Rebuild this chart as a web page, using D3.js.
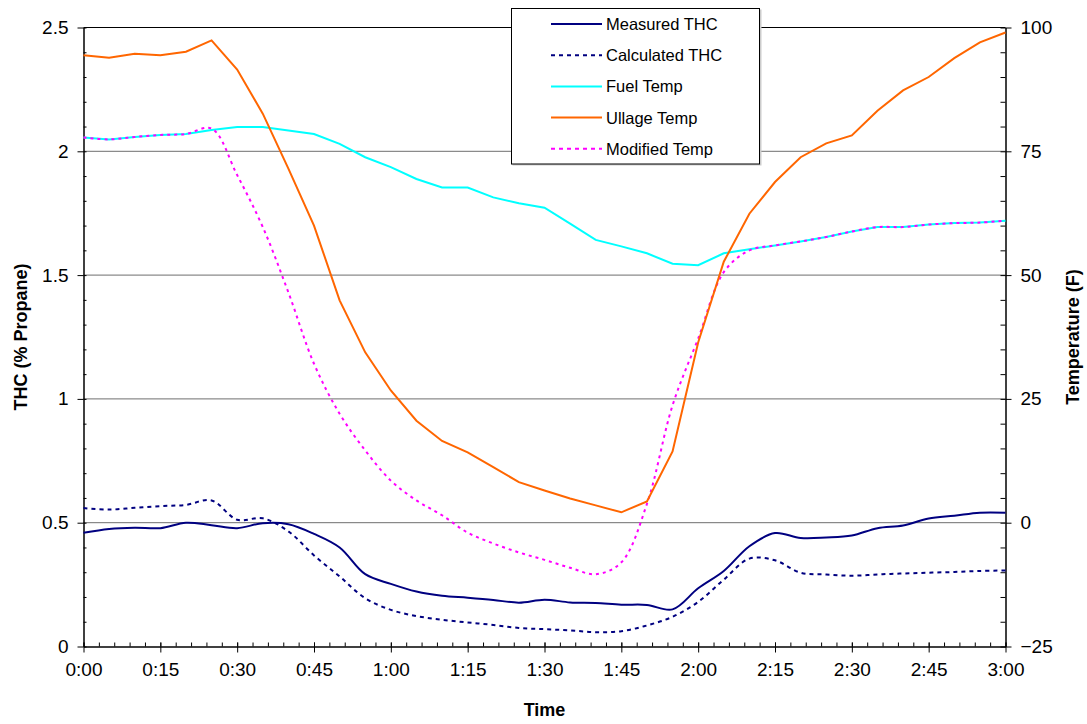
<!DOCTYPE html>
<html>
<head>
<meta charset="utf-8">
<script src="https://cdn.jsdelivr.net/npm/d3@7"></script>
<style>
html,body{margin:0;padding:0;background:#fff;}
svg{display:block;font-family:"Liberation Sans",Arial,sans-serif;}
</style>
</head>
<body>
<svg id="chart" width="1087" height="724"></svg>
<script>
// ---- data (minutes since start, 5-min steps) ----
const minutes = [0,5,10,15,20,25,30,35,40,45,50,55,60,65,70,75,80,85,90,95,100,105,110,115,120,125,130,135,140,145,150,155,160,165,170,175,180];
const measuredTHC = [0.459,0.475,0.480,0.478,0.500,0.490,0.478,0.498,0.494,0.455,0.400,0.292,0.253,0.222,0.205,0.197,0.188,0.177,0.189,0.178,0.176,0.169,0.168,0.150,0.235,0.305,0.405,0.458,0.438,0.440,0.448,0.478,0.489,0.517,0.528,0.540,0.540];
const calculatedTHC = [0.559,0.553,0.560,0.567,0.572,0.590,0.512,0.518,0.465,0.368,0.283,0.195,0.148,0.123,0.108,0.097,0.087,0.075,0.070,0.065,0.058,0.062,0.085,0.120,0.180,0.270,0.355,0.348,0.298,0.291,0.286,0.291,0.295,0.298,0.301,0.305,0.307];
const fuelTemp = [77.8,77.4,77.9,78.3,78.5,79.3,79.9,79.9,79.2,78.5,76.5,73.8,71.8,69.4,67.7,67.7,65.7,64.5,63.6,60.4,57.1,55.8,54.4,52.3,52.0,54.4,55.2,56.0,56.8,57.7,58.8,59.7,59.7,60.2,60.5,60.6,61.0];
const ullageTemp = [94.4,93.9,94.7,94.4,95.1,97.4,91.5,82.6,71.5,60.0,44.9,34.4,26.7,20.6,16.5,14.2,11.2,8.2,6.5,4.9,3.5,2.1,4.3,14.4,36.4,52.7,62.4,68.8,73.8,76.6,78.2,83.2,87.3,90.0,93.8,97.0,99.0];
const modifiedTemp = [77.8,77.4,77.9,78.3,78.5,79.6,70.2,59.7,46.5,32.1,22.0,14.6,8.5,4.5,1.5,-2.0,-4.2,-6.0,-7.5,-9.1,-10.4,-8.0,3.8,23.7,37.2,50.6,55.0,56.0,56.8,57.7,58.8,59.7,59.7,60.2,60.5,60.6,61.0];

const timeTicks = [0,15,30,45,60,75,90,105,120,135,150,165,180];
const timeLabels = ["0:00","0:15","0:30","0:45","1:00","1:15","1:30","1:45","2:00","2:15","2:30","2:45","3:00"];
const leftTicks = [0,0.5,1,1.5,2,2.5];
const rightTicks = [-25,0,25,50,75,100];

const seriesNames = ["Measured THC","Calculated THC","Fuel Temp","Ullage Temp","Modified Temp"];
const seriesColors = ["#000080","#000080","#00FFFF","#FF6600","#FF00FF"];

// ---- layout ----
const svg = d3.select("#chart");
const L = 83.5, R = 1005.5, T = 27.5, B = 646.5;
const x = d3.scaleLinear().domain([0,180]).range([L,R]);
const yL = d3.scaleLinear().domain([0,2.5]).range([B,T]);
const yR = d3.scaleLinear().domain([-25,100]).range([B,T]);

// gridlines
svg.append("g").selectAll("line").data(leftTicks.filter(d=>d>0)).join("line")
  .attr("x1",L).attr("x2",R).attr("y1",d=>yL(d)).attr("y2",d=>yL(d))
  .attr("stroke",d=>d===2.5?"#000":"#6e6e6e").attr("stroke-width",1);

// axes
const minorX = d3.range(0,181,3);
svg.append("g").attr("transform",`translate(0,${B})`)
  .call(d3.axisTop(x).tickValues(minorX).tickSize(4).tickFormat(""))
  .call(g=>{g.select(".domain").remove();g.selectAll("line").attr("stroke","#000");});
svg.append("g").attr("transform",`translate(0,${B})`)
  .call(d3.axisBottom(x).tickValues(timeTicks).tickSize(6).tickSizeOuter(0).tickPadding(10).tickFormat((d,i)=>timeLabels[i]))
  .call(g=>{g.select(".domain").attr("stroke","#000").attr("stroke-width",1.5);
    g.selectAll("line").attr("stroke","#000");
    g.selectAll("text").attr("font-size",19).attr("fill","#000");});
svg.append("g").attr("transform",`translate(0,${B})`)
  .call(d3.axisTop(x).tickValues(timeTicks).tickSize(4).tickFormat(""))
  .call(g=>{g.select(".domain").remove();g.selectAll("line").attr("stroke","#000");});

const minorL = d3.range(0,26).map(d=>d/10);
svg.append("g").attr("transform",`translate(${L},0)`)
  .call(d3.axisRight(yL).tickValues(minorL).tickSize(3).tickFormat(""))
  .call(g=>{g.select(".domain").remove();g.selectAll("line").attr("stroke","#000");});
svg.append("g").attr("transform",`translate(${L},0)`)
  .call(d3.axisLeft(yL).tickValues(leftTicks).tickSize(6).tickSizeOuter(0).tickPadding(9).tickFormat(d=>d3.format("")(d)))
  .call(g=>{g.select(".domain").attr("stroke","#000").attr("stroke-width",1.5);
    g.selectAll("line").attr("stroke","#000");
    g.selectAll("text").attr("font-size",19).attr("fill","#000");});

const minorR = d3.range(-25,101,5);
svg.append("g").attr("transform",`translate(${R},0)`)
  .call(d3.axisLeft(yR).tickValues(minorR).tickSize(5).tickFormat(""))
  .call(g=>{g.select(".domain").remove();g.selectAll("line").attr("stroke","#000");});
svg.append("g").attr("transform",`translate(${R},0)`)
  .call(d3.axisRight(yR).tickValues(rightTicks).tickSize(6).tickSizeOuter(0).tickPadding(9))
  .call(g=>{g.select(".domain").attr("stroke","#000").attr("stroke-width",1.5);
    g.selectAll("line").attr("stroke","#000");
    g.selectAll("text").attr("font-size",19).attr("fill","#000");});

// axis titles
svg.append("text").attr("transform",`translate(27,${(T+B)/2}) rotate(-90)`)
  .attr("text-anchor","middle").attr("font-size",18).attr("font-weight","bold").text("THC (% Propane)");
svg.append("text").attr("transform",`translate(1079,${(T+B)/2}) rotate(-90)`)
  .attr("text-anchor","middle").attr("font-size",18).attr("font-weight","bold").text("Temperature (F)");
svg.append("text").attr("x",(L+R)/2).attr("y",716)
  .attr("text-anchor","middle").attr("font-size",18).attr("font-weight","bold").text("Time");

// lines
const lineL = (curve)=>d3.line().x((d,i)=>x(minutes[i])).y(d=>yL(d)).curve(curve);
const lineR = (curve)=>d3.line().x((d,i)=>x(minutes[i])).y(d=>yR(d)).curve(curve);
const plot = svg.append("g");
plot.append("path").attr("d",lineR(d3.curveLinear)(fuelTemp))
  .attr("fill","none").attr("stroke",seriesColors[2]).attr("stroke-width",2);
plot.append("path").attr("d",lineR(d3.curveCatmullRom.alpha(0.5))(modifiedTemp))
  .attr("fill","none").attr("stroke",seriesColors[4]).attr("stroke-width",2).attr("stroke-dasharray","3,4");
plot.append("path").attr("d",lineR(d3.curveLinear)(ullageTemp))
  .attr("fill","none").attr("stroke",seriesColors[3]).attr("stroke-width",2);
plot.append("path").attr("d",lineL(d3.curveCatmullRom.alpha(0.5))(calculatedTHC))
  .attr("fill","none").attr("stroke",seriesColors[1]).attr("stroke-width",2).attr("stroke-dasharray","4,4");
plot.append("path").attr("d",lineL(d3.curveCatmullRom.alpha(0.5))(measuredTHC))
  .attr("fill","none").attr("stroke",seriesColors[0]).attr("stroke-width",2);

// legend
const lg = svg.append("g");
lg.append("rect").attr("x",512.5).attr("y",9.5).attr("width",249).attr("height",156).attr("fill","#ccc");
lg.append("rect").attr("x",511.5).attr("y",8.5).attr("width",248).attr("height",155.5)
  .attr("fill","#fff").attr("stroke","#000").attr("stroke-width",1);
const dashes = [null,"4,4",null,null,"4,4"];
seriesNames.forEach((n,i)=>{
  const yy = 24 + i*31.2;
  lg.append("line").attr("x1",551).attr("x2",602).attr("y1",yy).attr("y2",yy)
    .attr("stroke",seriesColors[i]).attr("stroke-width",2).attr("stroke-dasharray",dashes[i]);
  lg.append("text").attr("x",606).attr("y",yy+6).attr("font-size",16.5).attr("fill","#000").text(n);
});
</script>
</body>
</html>
